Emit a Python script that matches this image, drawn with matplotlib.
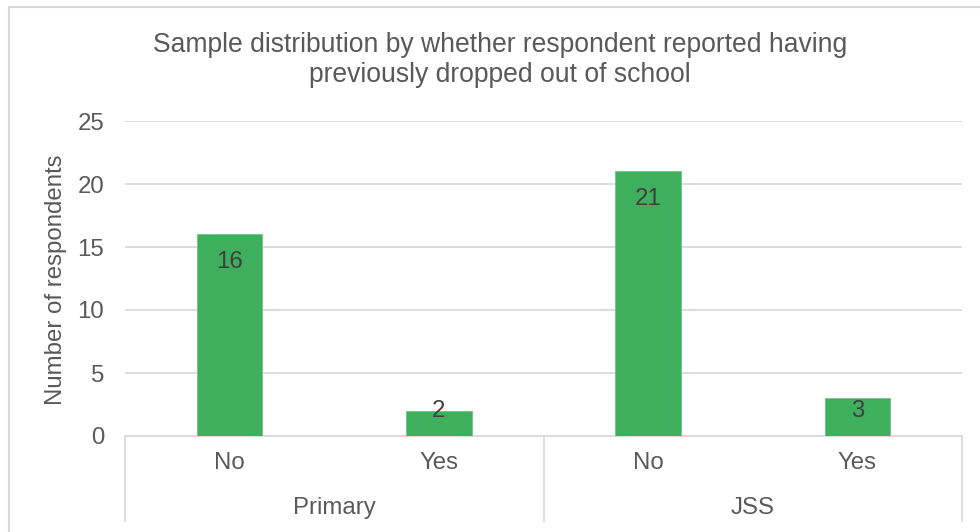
import matplotlib
matplotlib.use("Agg")
import matplotlib.pyplot as plt
from matplotlib.lines import Line2D
from matplotlib.patches import Rectangle

plt.rcParams['font.family'] = ['Liberation Sans', 'DejaVu Sans']

# Data
groups = ["Primary", "JSS"]
answers = ["No", "Yes"]
values = [16, 2, 21, 3]
y_ticks = [0, 5, 10, 15, 20, 25]
title = "Sample distribution by whether respondent reported having\npreviously dropped out of school"
y_label = "Number of respondents"

bar_color = "#3EAF5C"
text_color = "#595959"
grid_color = "#D9D9D9"
fs = 17.3

W, H = 980, 532
fig = plt.figure(figsize=(W / 100, H / 100), dpi=100)

# Chart-area border
fig.add_artist(Rectangle((8.5 / W, -0.1), 1.2, 1 - 6.5 / H + 0.1,
                         transform=fig.transFigure, fill=False,
                         edgecolor="#D9D9D9", linewidth=1.5))

left, right = 125 / W, 962 / W
bottom, top = 1 - 436 / H, 1 - 121 / H
ax = fig.add_axes([left, bottom, right - left, top - bottom])

n = len(values)
x = list(range(n))
ax.bar(x, values, width=0.313, color=bar_color, edgecolor="#6CC486",
       linewidth=0.6, zorder=3)

ax.set_xlim(-0.5, n - 0.5)
ax.set_ylim(0, 25)
ax.set_yticks(y_ticks)
ax.set_yticklabels([str(t) for t in y_ticks], fontsize=fs, color=text_color)
ax.tick_params(axis='y', length=0, pad=15)
ax.set_xticks([])
ax.grid(axis='y', color=grid_color, linewidth=1.3, zorder=0)
for s in ax.spines.values():
    s.set_visible(False)

fig.text(56 / W, 1 - 280 / H, y_label, rotation=90, ha="center", va="center",
         fontsize=fs, color=text_color)

# Value labels at the inside end of each bar (kept above the axis for short bars)
unit_px = (436 - 121) / 25.0
inset = 28 / unit_px
floor = 25 / unit_px
for xi, v in zip(x, values):
    ax.text(xi, max(v - inset, floor), str(v), ha="center", va="center",
            fontsize=fs, color="#404040", zorder=4)

# Multi-level category axis
trans = ax.get_xaxis_transform()
px = 1.0 / (436 - 121)  # one pixel in axes-y units
axis_line_kw = dict(color=grid_color, linewidth=1.3, transform=trans, clip_on=False)
ax.add_line(Line2D([-0.5, n - 0.5], [0, 0], **axis_line_kw))
sep_bottom = -(521 - 436) * px
for b in [-0.5, 1.5, 3.5]:
    ax.add_line(Line2D([b, b], [0, sep_bottom], **axis_line_kw))

for i in range(n):
    ax.text(i, -(463 - 436) * px, answers[i % len(answers)], transform=trans,
            ha="center", va="center", fontsize=fs, color=text_color)
for g, name in enumerate(groups):
    ax.text(g * 2 + 0.5, -(508 - 436) * px, name, transform=trans,
            ha="center", va="center", fontsize=fs, color=text_color)

fig.text(500 / W, 1 - 60 / H, title, ha="center", va="center",
         fontsize=19.1, color=text_color, linespacing=1.2)

fig.savefig("out.png", dpi=100)
